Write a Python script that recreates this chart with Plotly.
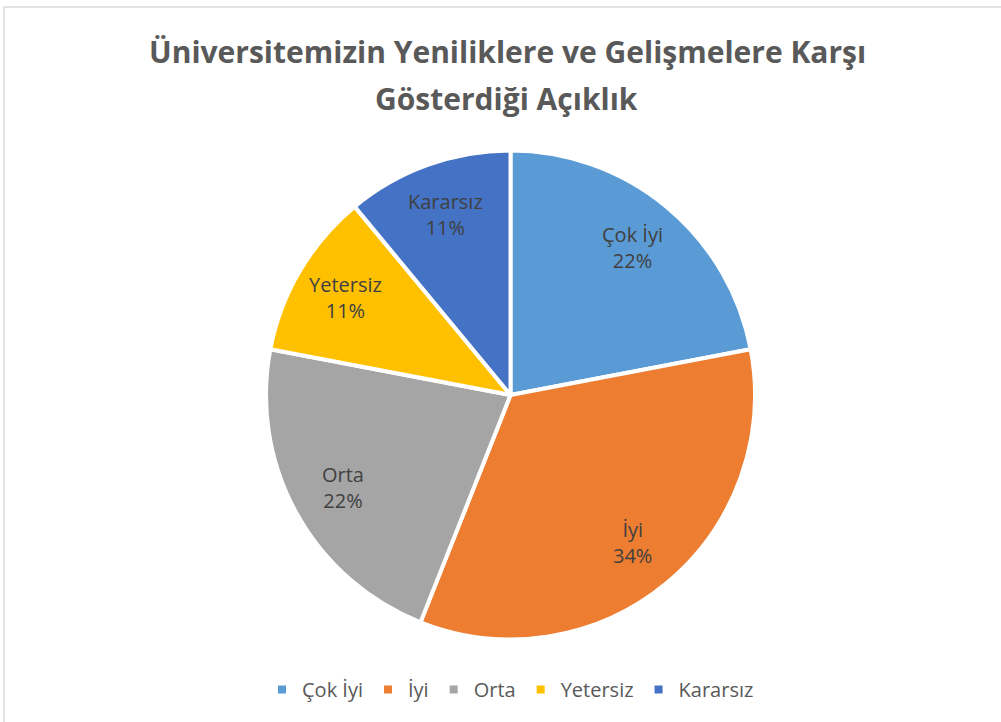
import math
import plotly.graph_objects as go

# Survey answers, clockwise from 12 o'clock
categories = ['Çok İyi', 'İyi', 'Orta', 'Yetersiz', 'Kararsız']
shares = [22, 34, 22, 11, 11]
colors = ['#5B9BD5', '#ED7D31', '#A5A5A5', '#FFC000', '#4472C4']

title_lines = ['Üniversitemizin Yeniliklere ve Gelişmelere Karşı', 'Gösterdiği Açıklık']

W, H = 1001, 722
dom_x = [0.02, 1.0]
dom_y = [0.1143, 0.7915]
r_px = 242.5        # rendered pie radius (approx)
label_r = 0.79      # labels sit at ~0.79 of the radius, like Excel's best fit

# label positions from the slice mid-angles
total = sum(shares)
labels = []
start = 0.0
for name, v in zip(categories, shares):
    mid = (start + v / 2) / total * 2 * math.pi
    labels.append(dict(
        x=label_r * math.sin(mid), y=label_r * math.cos(mid),
        xref='x', yref='y', showarrow=False,
        text=f'{name}<br>{round(v / total * 100)}%',
        font=dict(family='Open Sans', size=20, color='#404040'),
    ))
    start += v

fig = go.Figure()
fig.add_trace(go.Pie(
    labels=categories,
    values=shares,
    sort=False,
    direction='clockwise',
    rotation=0,
    marker=dict(colors=colors, line=dict(color='white', width=4)),
    textinfo='none',
    domain=dict(x=dom_x, y=dom_y),
    hoverinfo='label+percent',
))

half_w = (dom_x[1] - dom_x[0]) * W / 2 / r_px
half_h = (dom_y[1] - dom_y[0]) * H / 2 / r_px

title_font = dict(family='Open Sans', size=30, color='#595959', weight='bold')

fig.update_layout(
    width=W,
    height=H,
    margin=dict(l=0, r=0, t=0, b=0),
    paper_bgcolor='white',
    plot_bgcolor='rgba(0,0,0,0)',
    xaxis=dict(domain=dom_x, range=[-half_w, half_w], visible=False, fixedrange=True),
    yaxis=dict(domain=dom_y, range=[-half_h, half_h], visible=False, fixedrange=True),
    legend=dict(
        orientation='h',
        x=0.51, xanchor='center',
        y=0.018, yanchor='bottom',
        font=dict(family='Open Sans', size=20, color='#595959'),
        itemwidth=30,
        traceorder='normal',
    ),
    annotations=labels + [
        dict(text=title_lines[0], xref='paper', yref='paper', x=0.507, y=0.929,
             xanchor='center', yanchor='middle', showarrow=False, font=title_font),
        dict(text=title_lines[1], xref='paper', yref='paper', x=0.506, y=0.864,
             xanchor='center', yanchor='middle', showarrow=False, font=title_font),
    ],
    shapes=[dict(
        type='rect', xref='paper', yref='paper',
        x0=0.004, x1=1.05, y0=-0.05, y1=0.9903,
        line=dict(color='#D9D9D9', width=1.5),
    )],
)

fig.write_html('out.html', config={'displayModeBar': False},
               post_script="document.body.style.margin='0';")
